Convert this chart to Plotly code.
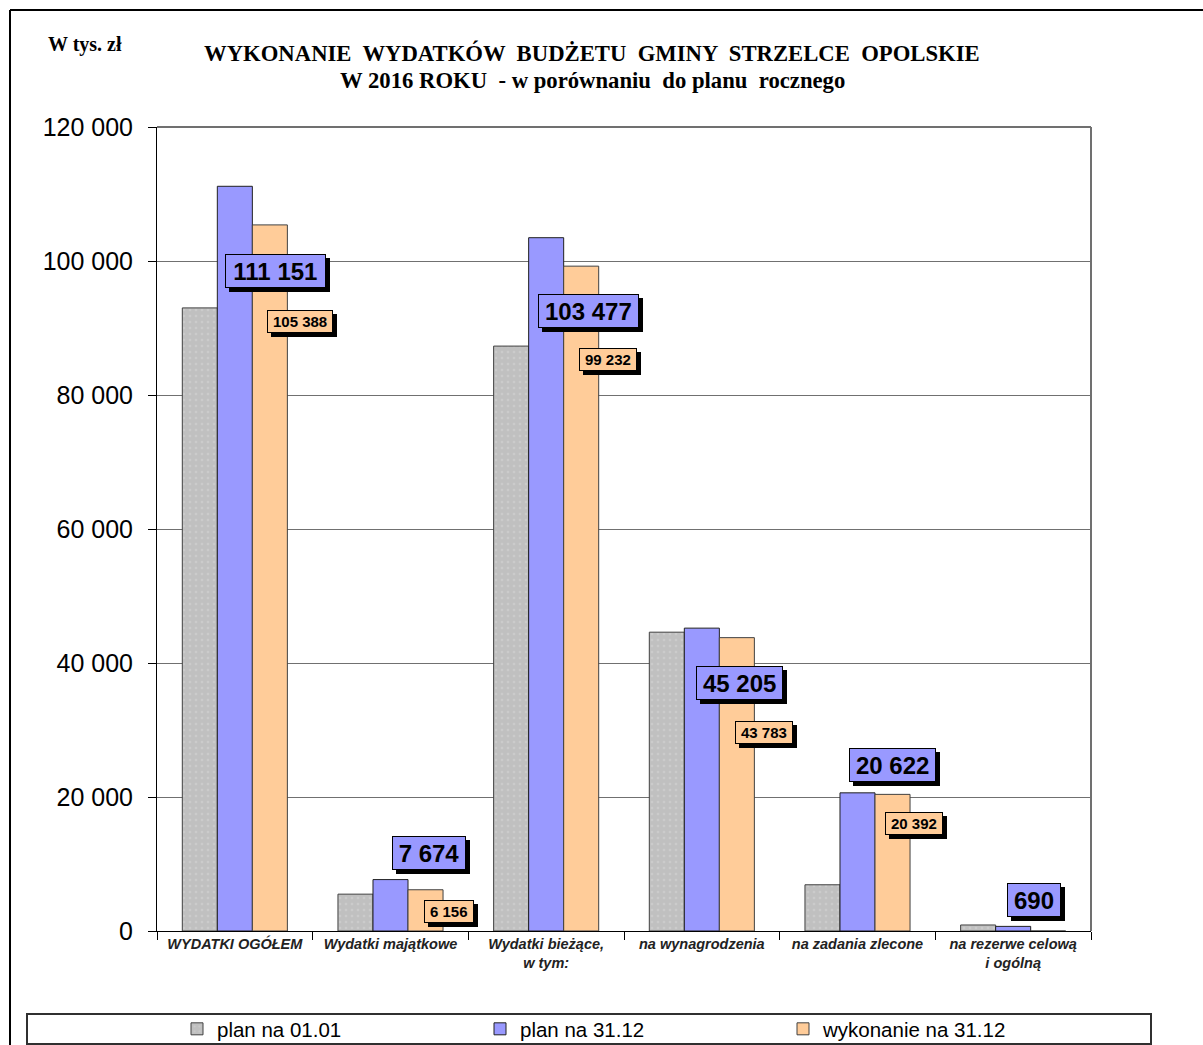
import plotly.graph_objects as go

categories = ["WYDATKI OGÓŁEM", "Wydatki majątkowe", "Wydatki bieżące,<br>w tym:",
              "na wynagrodzenia", "na zadania zlecone", "na rezerwe celową<br>i ogólną"]
plan_0101 = [93000, 5500, 87300, 44600, 6900, 900]
plan_3112 = [111151, 7674, 103477, 45205, 20622, 690]
wykonanie_3112 = [105388, 6156, 99232, 43783, 20392, 0]
series_names = ["plan na 01.01", "plan na 31.12", "wykonanie na 31.12"]
y_ticks = [0, 20000, 40000, 60000, 80000, 100000, 120000]
title_lines = ["WYKONANIE  WYDATKÓW  BUDŻETU  GMINY  STRZELCE  OPOLSKIE",
               "W 2016 ROKU  - w porównaniu  do planu  rocznego"]

# label placement offsets (pixels) relative to category centre / bar top
blue_dx = [41, 38, 42, 38, 35, 21]
blue_dy = [-85, 27, -73, -55, 28, 26]
orange_dx = [65, 58, 62, 62, 56, None]
orange_dy = [-97, -22, -93, -95, -29, None]

W, H = 1203, 1045
L, R, T, B = 157, 112, 127, 114
pw, ph = W - L - R, H - T - B

def px_x(p):
    return (p - L) / pw

def px_y(p):
    return (H - B - p) / ph

def fmt(v):
    return f"{v:,}".replace(",", " ")

def text_w(s, size):
    w = 0.0
    for ch in s:
        w += 0.278 if ch == " " else 0.556
    return w * size

FONT = "Liberation Sans, Arial, sans-serif"
SERIF = "Liberation Serif, Times New Roman, serif"

fig = go.Figure()
fig.add_bar(x=categories, y=plan_0101, name=series_names[0],
            marker=dict(color="#C0C0C0", line=dict(color="#404040", width=1),
                        pattern=dict(shape=".", fgcolor="#D6D6D6", bgcolor="#C0C0C0",
                                     size=6, solidity=0.15)))
fig.add_bar(x=categories, y=plan_3112, name=series_names[1],
            marker=dict(color="#9999FF", line=dict(color="#202020", width=1)))
fig.add_bar(x=categories, y=wykonanie_3112, name=series_names[2],
            marker=dict(color="#FFCC99", line=dict(color="#404040", width=1)))

annotations = []

def label(cat, val, dx, dy, size, bg, pad, extra_w, h):
    t = fmt(val)
    w = text_w(t, size) + extra_w
    # shadow box
    annotations.append(dict(x=cat, y=val, xref="x", yref="y", text=" ",
                            showarrow=False, xshift=dx + 4, yshift=dy - 4,
                            width=w, height=h,
                            font=dict(family=FONT, size=size, color="black"),
                            bgcolor="black", bordercolor="black", borderwidth=1, borderpad=pad))
    annotations.append(dict(x=cat, y=val, xref="x", yref="y", text="<b>" + t + "</b>",
                            showarrow=False, xshift=dx, yshift=dy,
                            width=w, height=h,
                            font=dict(family=FONT, size=size, color="black"),
                            bgcolor=bg, bordercolor="black", borderwidth=1, borderpad=pad))

for i, c in enumerate(categories):
    label(c, plan_3112[i], blue_dx[i], blue_dy[i], 24, "#9999FF", 2, 8, 28)
    if orange_dx[i] is not None:
        label(c, wykonanie_3112[i], orange_dx[i], orange_dy[i], 15, "#FFCC99", 2, 6, 17)

for line, ypx in zip(title_lines, [53, 80]):
    annotations.append(dict(x=px_x(592), y=px_y(ypx), xref="paper", yref="paper",
                            text="<b>" + line + "</b>",
                            showarrow=False, font=dict(family=SERIF, size=22.7, color="black"),
                            xanchor="center", yanchor="middle", align="center"))
annotations.append(dict(x=px_x(46), y=px_y(45), xref="paper", yref="paper",
                        text="<b>W tys. zł</b>", showarrow=False,
                        font=dict(family=SERIF, size=20, color="black"),
                        xanchor="left", yanchor="middle"))

shapes = [
    dict(type="line", xref="paper", yref="paper", x0=px_x(10), x1=px_x(1203), y0=px_y(10), y1=px_y(10),
         line=dict(color="black", width=2)),
    dict(type="line", xref="paper", yref="paper", x0=px_x(10), x1=px_x(10), y0=px_y(10), y1=px_y(1045),
         line=dict(color="black", width=2)),
    dict(type="line", xref="paper", yref="paper", x0=0, x1=1, y0=1, y1=1,
         line=dict(color="#707070", width=2)),
    dict(type="line", xref="paper", yref="paper", x0=1, x1=1, y0=0, y1=1,
         line=dict(color="#707070", width=2)),
    dict(type="rect", xref="paper", yref="paper", x0=px_x(27), x1=px_x(1151), y0=px_y(1014), y1=px_y(1044),
         line=dict(color="#303030", width=2), fillcolor="rgba(0,0,0,0)"),
]

fig.update_layout(
    width=W, height=H,
    margin=dict(l=L, r=R, t=T, b=B, autoexpand=False),
    paper_bgcolor="white", plot_bgcolor="white",
    separators=", ",
    barmode="group", bargap=0.325, bargroupgap=0,
    font=dict(family=FONT, color="black"),
    showlegend=True,
    legend=dict(orientation="h", xref="container", yref="container",
                x=177 / W, y=(H - 1029) / H, xanchor="left", yanchor="middle",
                entrywidth=258, entrywidthmode="pixels", itemwidth=30,
                font=dict(family=FONT, size=20.5, color="black"), bgcolor="rgba(0,0,0,0)",
                traceorder="normal"),
    annotations=annotations,
    shapes=shapes,
    xaxis=dict(showline=True, linecolor="black", linewidth=1, ticks="outside", tickson="boundaries",
               ticklen=8, tickcolor="black",
               tickfont=dict(family=FONT, size=14.5, color="#222", style="italic", weight="bold")),
    yaxis=dict(range=[0, 120000], tickvals=y_ticks, tickformat=",d", showline=True, linecolor="black",
               linewidth=1, ticks="outside", ticklen=8, tickcolor="black", showgrid=True,
               gridcolor="#707070", gridwidth=1, zeroline=False, ticklabelstandoff=10,
               tickfont=dict(family=FONT, size=25, color="black")),
)

fig.write_html("out.html", config={"displayModeBar": False},
               post_script="document.body.style.margin='0';")
